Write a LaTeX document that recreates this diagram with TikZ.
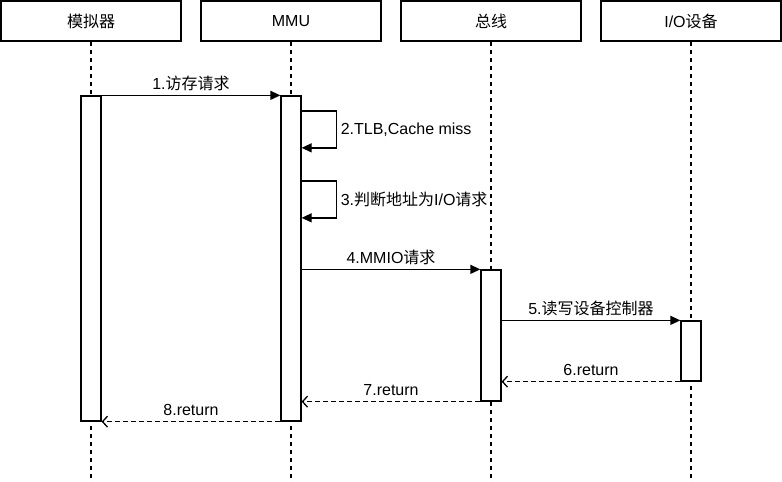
\documentclass[tikz,border=0pt]{standalone}
\usepackage{fontspec}
\setmainfont{Liberation Sans}
\newfontfamily\cjk{Noto Sans CJK SC}
\usetikzlibrary{arrows.meta,calc}
\begin{document}
\begin{tikzpicture}[x=1pt,y=-1pt,
  font=\fontsize{16}{19}\selectfont,
  head/.style={draw,line width=1.3pt,minimum width=180pt,minimum height=40pt,inner sep=0pt},
  act/.style={draw,fill=white,line width=1.3pt,minimum width=20pt,inner sep=0pt},
  life/.style={line width=1.3pt,dash pattern=on 4pt off 4pt},
  msg/.style={line width=1.3pt,-{Triangle[length=10pt,width=9pt]}},
  ret/.style={line width=1.3pt,dash pattern=on 5pt off 3pt,-{Straight Barb[length=5pt,width=11pt]}},
  lbl/.style={midway,yshift=12pt,inner sep=0pt},
  sidelbl/.style={midway,right,inner sep=3.5pt}
]
\useasboundingbox (0,0) rectangle (782,482);

% headers
\node[head] (h1) at (91,21) {\cjk 模拟器};
\node[head] (h2) at (291,21) {MMU};
\node[head] (h3) at (491,21) {\cjk 总线};
\node[head] (h4) at (691,21) {I/O{\cjk 设备}};

% lifelines
\coordinate (e1) at (91,482);
\coordinate (e2) at (291,482);
\coordinate (e3) at (491,482);
\coordinate (e4) at (691,482);
\draw[life] (h1.south) -- (e1);
\draw[life] (h2.south) -- (e2);
\draw[life] (h3.south) -- (e3);
\draw[life] (h4.south) -- (e4);

% activations
\node[act,minimum height=325pt] (a1) at (91,258.5) {};
\node[act,minimum height=325pt] (a2) at (291,258.5) {};
\node[act,minimum height=131pt] (a3) at (491,335.5) {};
\node[act,minimum height=60pt] (a4) at (691,351) {};

% messages
\draw[msg] (a1.north east) -- node[lbl]{1.{\cjk 访存请求}} (a2.north west);
\draw[msg] ([yshift=-15.5pt]a2.north east) -- ++(35,0)
  -- node[sidelbl]{2.TLB,Cache miss} ++(0,37) -- ([yshift=-52.5pt]a2.north east);
\draw[msg] ([yshift=-85.5pt]a2.north east) -- ++(35,0)
  -- node[sidelbl]{3.{\cjk 判断地址为}I/O{\cjk 请求}} ++(0,37) -- ([yshift=-122.5pt]a2.north east);
\draw[msg] (a2.east |- a3.north) -- node[lbl]{4.MMIO{\cjk 请求}} (a3.north west);
\draw[msg] (a3.east |- a4.north) -- node[lbl]{5.{\cjk 读写设备控制器}} (a4.north west);
\draw[ret] (a4.south west) -- node[lbl]{6.return} (a3.east |- a4.south);
\draw[ret] (a3.south west) -- node[lbl]{7.return} (a2.east |- a3.south);
\draw[ret] (a2.south west) -- node[lbl]{8.return} (a1.south east);
\end{tikzpicture}
\end{document}
